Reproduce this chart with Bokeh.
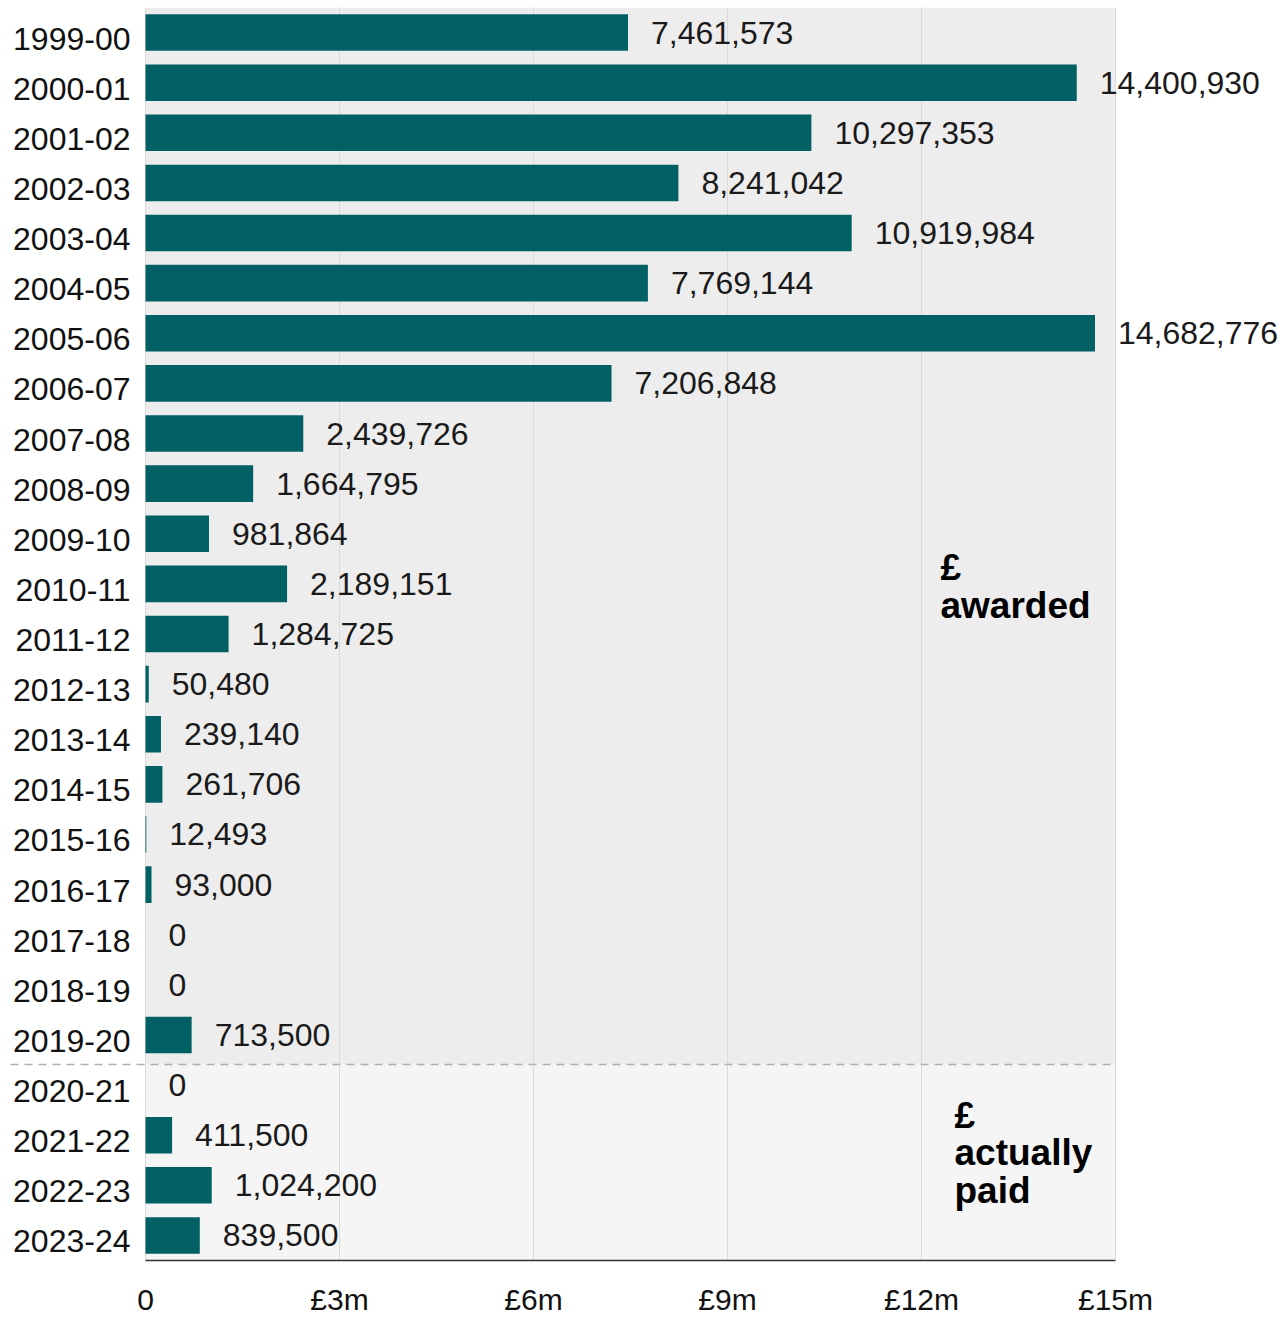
from bokeh.plotting import figure
from bokeh.models import Range1d, FixedTicker, ColumnDataSource
from bokeh.core.properties import value
from bokeh.embed import file_html
from bokeh.resources import INLINE

# ---------------- data ----------------
years = ["1999-00", "2000-01", "2001-02", "2002-03", "2003-04", "2004-05",
         "2005-06", "2006-07", "2007-08", "2008-09", "2009-10", "2010-11",
         "2011-12", "2012-13", "2013-14", "2014-15", "2015-16", "2016-17",
         "2017-18", "2018-19", "2019-20", "2020-21", "2021-22", "2022-23",
         "2023-24"]
amounts = [7461573, 14400930, 10297353, 8241042, 10919984, 7769144,
           14682776, 7206848, 2439726, 1664795, 981864, 2189151,
           1284725, 50480, 239140, 261706, 12493, 93000,
           0, 0, 713500, 0, 411500, 1024200, 839500]
n_awarded = 21  # 1999-00 .. 2019-20 are "awarded", the rest "actually paid"
tick_values = [0, 3_000_000, 6_000_000, 9_000_000, 12_000_000, 15_000_000]
tick_labels = ["0", "£3m", "£6m", "£9m", "£12m", "£15m"]
section_labels = ["£\nawarded", "£\nactually\npaid"]

# ---------------- layout ----------------
W, H = 1286, 1318
LEFT_PX = 145          # where 0 sits
PLOT_PX = 970          # width from 0 to max tick
RIGHT_PX = W - LEFT_PX - PLOT_PX
TOP = 7
BOTTOM = 58
xmax = tick_values[-1]
xmin = -LEFT_PX / PLOT_PX * xmax
xend = xmax + RIGHT_PX / PLOT_PX * xmax
split = n_awarded - 0.5 + 0.09   # divider sits a little below the row boundary

FONT = value("Liberation Sans")
BAR = "#006064"

idx = list(range(len(years)))
src = ColumnDataSource(dict(
    y=idx, v=amounts, year=years,
    lab=[f"{a:,}" for a in amounts],
))

p = figure(width=W, height=H, output_backend="svg", toolbar_location=None,
           x_range=Range1d(xmin, xend),
           y_range=Range1d(len(years) - 0.5, -0.5),
           y_axis_location=None,
           min_border_left=0, min_border_right=0,
           min_border_top=TOP, min_border_bottom=BOTTOM)
p.outline_line_color = None
p.background_fill_color = "white"
p.border_fill_color = "white"
p.ygrid.visible = False

# section backgrounds
r1 = p.quad(left=[0], right=[xmax], top=[-0.5], bottom=[split],
            fill_color="#ededed", line_color=None)
r2 = p.quad(left=[0], right=[xmax], top=[split], bottom=[len(years) - 0.5],
            fill_color="#f5f5f5", line_color=None)
r1.level = "image"
r2.level = "image"

# grid
p.xgrid.ticker = FixedTicker(ticks=tick_values)
p.xgrid.grid_line_color = "#dadada"
p.xgrid.grid_line_width = 1

# separator
dash_start = xmin + 10 / PLOT_PX * xmax
p.segment(x0=[dash_start], x1=[xmax], y0=[split], y1=[split],
          line_color="#b0b0b0", line_width=1.5, line_dash="8 6")

# bars
p.hbar(y="y", left=0, right="v", height=0.73, source=src,
       fill_color=BAR, line_color=None)

# value labels
p.text(x="v", y="y", text="lab", source=src, x_offset=23,
       text_baseline="middle", text_align="left",
       text_font=FONT, text_font_size="32px", text_color="#1a1a1a")

# category labels
p.text(x=0, y="y", text="year", source=src, x_offset=-15, y_offset=6,
       text_baseline="middle", text_align="right",
       text_font=FONT, text_font_size="32px", text_color="#111111")

# section annotations
p.text(x=[xmax * 0.8196], y=[11.05], text=[section_labels[0]],
       text_baseline="middle", text_align="left", text_line_height=0.91,
       text_font=FONT, text_font_size="37px", text_font_style="bold",
       text_color="#000000")
p.text(x=[xmax * 0.834], y=[22.35], text=[section_labels[1]],
       text_baseline="middle", text_align="left", text_line_height=0.91,
       text_font=FONT, text_font_size="37px", text_font_style="bold",
       text_color="#000000")

# x axis
ax = p.xaxis[0]
ax.ticker = FixedTicker(ticks=tick_values)
ax.major_label_overrides = {t: l for t, l in zip(tick_values, tick_labels)}
ax.bounds = (0, xmax)
ax.axis_line_color = "#333333"
ax.axis_line_width = 1.5
ax.major_tick_line_color = None
ax.minor_tick_line_color = None
ax.major_tick_out = 0
ax.major_tick_in = 0
ax.major_label_standoff = 22
ax.major_label_text_font = "Liberation Sans"
ax.major_label_text_font_size = "30px"
ax.major_label_text_color = "#111111"

open("out.html", "w").write(file_html(p, INLINE))
